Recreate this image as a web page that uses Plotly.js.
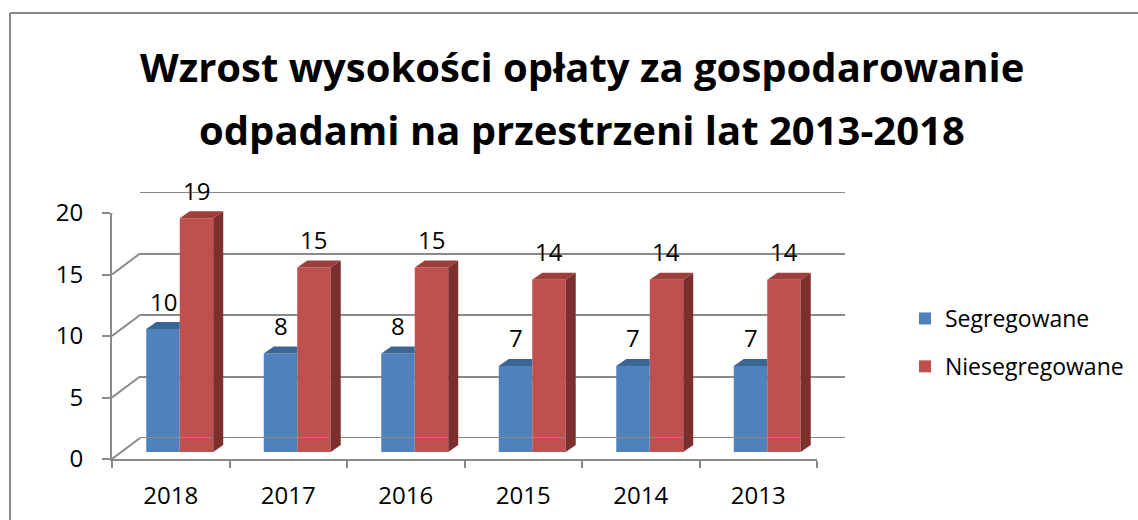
<!DOCTYPE html>
<html><head><meta charset="utf-8">
<script src="https://cdn.plot.ly/plotly-3.0.1.min.js"></script>
<style>html,body{margin:0;padding:0;background:#fff}</style>
</head><body><div id="chart" style="width:1138px;height:520px"></div>
<script>
const years = ['2018','2017','2016','2015','2014','2013'];
const segregowane = [10, 8, 8, 7, 7, 7];
const niesegregowane = [19, 15, 15, 14, 14, 14];
const seriesNames = ['Segregowane', 'Niesegregowane'];
const yTicks = [0, 5, 10, 15, 20];
const titleLines = ['Wzrost wysokości opłaty za gospodarowanie', 'odpadami na przestrzeni lat 2013-2018'];

const W = 1138, H = 520;
const FX0 = 112, FX1 = 817, FY0 = 459, FY1 = 213;   // front plane (px)
const BAR_OFF = [9, 7], BACK_OFF = [28, 21];       // depth offsets (px)
const FACE = [10, 7];                              // bar depth (px)
const YMAX = 20, BARGAP = 0.43;
const BLUE = '#4F81BD', RED = '#C0504D', BLUE_TOP = '#3B6593', RED_TOP = '#9E3F3C', RED_SIDE = '#7C302E';
const GRID = '#8A8A8A';
const FONT = 'Open Sans, Noto Sans, sans-serif';

const px = x => x / W, py = y => (H - y) / H;
const unitPx = (FY0 - FY1) / YMAX;
const catPx = (FX1 - FX0) / years.length;
const halfW = (1 - BARGAP) / 2;
const barPx = halfW * catPx;
const faceDy = FACE[1] / unitPx;
const backDy = BACK_OFF[1] / unitPx;

const traces = [
  {type: 'scatter', x: [], y: [], xaxis: 'x2', yaxis: 'y2', showlegend: false, hoverinfo: 'skip'},
  {type: 'bar', name: seriesNames[0], x: years, y: segregowane, xaxis: 'x3', yaxis: 'y3',
   marker: {color: BLUE}, legendgroup: 'a'},
  {type: 'bar', name: seriesNames[1], x: years, y: niesegregowane, xaxis: 'x3', yaxis: 'y3',
   marker: {color: RED}, legendgroup: 'b'}
];

const shapes = [];
const annotations = [];
// chart border (top and left edges)
shapes.push({type: 'line', xref: 'paper', yref: 'paper', x0: px(10), x1: px(1200), y0: py(13), y1: py(13), line: {color: GRID, width: 2}});
shapes.push({type: 'line', xref: 'paper', yref: 'paper', x0: px(10), x1: px(10), y0: py(13), y1: py(600), line: {color: GRID, width: 2}});
// back wall edge gridlines (floor back edge and top)
[0, YMAX].forEach(t => {
  shapes.push({type: 'line', xref: 'x2', yref: 'y2', x0: -0.5, x1: years.length - 0.5, y0: t, y1: t, line: {color: GRID, width: 2}});
});
// side wall diagonals
yTicks.forEach(t => {
  shapes.push({type: 'line', xref: 'x', yref: 'y', xsizemode: 'pixel', xanchor: -0.5, x0: 0, x1: BACK_OFF[0],
    y0: t, y1: t + backDy, line: {color: GRID, width: 2}});
});
shapes.push({type: 'line', xref: 'x', yref: 'y', xsizemode: 'pixel', xanchor: years.length - 0.5, x0: 0, x1: BACK_OFF[0],
  y0: 0, y1: backDy, line: {color: GRID, width: 2}});

years.forEach((yr, i) => {
  const b = segregowane[i], r = niesegregowane[i];
  const dx = FACE[0];
  shapes.push({type: 'path', xref: 'x3', yref: 'y3', xsizemode: 'pixel', xanchor: i - halfW, layer: 'above',
    path: `M0,${b} L${barPx},${b} L${barPx},${b + faceDy} L${dx},${b + faceDy} Z`,
    fillcolor: BLUE_TOP, line: {width: 0}});
  shapes.push({type: 'path', xref: 'x3', yref: 'y3', xsizemode: 'pixel', xanchor: i, layer: 'above',
    path: `M0,${r} L${barPx},${r} L${barPx + dx},${r + faceDy} L${dx},${r + faceDy} Z`,
    fillcolor: RED_TOP, line: {width: 0}});
  shapes.push({type: 'path', xref: 'x3', yref: 'y3', xsizemode: 'pixel', xanchor: i, layer: 'above',
    path: `M${barPx},0 L${barPx + dx},${faceDy} L${barPx + dx},${r + faceDy} L${barPx},${r} Z`,
    fillcolor: RED_SIDE, line: {width: 0}});
  annotations.push({xref: 'x3', yref: 'y3', x: i - halfW / 2, y: b, yshift: 28, text: String(b), showarrow: false,
    font: {family: FONT, size: 24, color: '#000'}});
  annotations.push({xref: 'x3', yref: 'y3', x: i + halfW / 2, y: r, yshift: 28, text: String(r), showarrow: false,
    font: {family: FONT, size: 24, color: '#000'}});
});

titleLines.forEach((t, k) => {
  annotations.push({xref: 'paper', yref: 'paper', x: px(582), y: py(k === 0 ? 66 : 129), xanchor: 'center', yanchor: 'middle',
    text: '<b>' + t + '</b>', showarrow: false, font: {family: FONT, size: 40, color: '#000'}});
});

const layout = {
  width: W, height: H,
  margin: {l: 0, r: 0, t: 0, b: 0},
  paper_bgcolor: '#fff', plot_bgcolor: 'rgba(0,0,0,0)',
  font: {family: FONT, size: 24, color: '#000'},
  showlegend: true,
  legend: {x: px(905), y: py(297), xanchor: 'left', yanchor: 'top', itemwidth: 30, tracegroupgap: 15,
    font: {family: FONT, size: 23, color: '#000'}, bgcolor: 'rgba(0,0,0,0)'},
  barmode: 'group', bargap: BARGAP, bargroupgap: 0,
  xaxis: {domain: [px(FX0), px(FX1)], anchor: 'y', type: 'category', categoryorder: 'array', categoryarray: years,
    range: [-0.5, years.length - 0.5], showline: true, linecolor: GRID, linewidth: 2, ticks: 'outside', tickson: 'boundaries',
    ticklen: 7, tickwidth: 2, tickcolor: GRID, showgrid: false, zeroline: false, ticklabelstandoff: 14,
    tickfont: {family: FONT, size: 24}, fixedrange: true},
  yaxis: {domain: [py(FY0), py(FY1)], anchor: 'x', range: [0, YMAX], tickvals: yTicks, showline: true, linecolor: GRID, linewidth: 2,
    ticks: 'outside', ticklen: 8, tickwidth: 2, tickcolor: GRID, showgrid: false, zeroline: false, ticklabelstandoff: 14,
    tickfont: {family: FONT, size: 24}, fixedrange: true},
  xaxis2: {domain: [px(FX0 + BACK_OFF[0]), px(FX1 + BACK_OFF[0])], anchor: 'y2', range: [-0.5, years.length - 0.5],
    showticklabels: false, showgrid: false, zeroline: false, showline: false, ticks: '', fixedrange: true},
  yaxis2: {domain: [py(FY0 - BACK_OFF[1]), py(FY1 - BACK_OFF[1])], anchor: 'x2', range: [0, YMAX], tickvals: yTicks,
    showticklabels: false, showgrid: true, gridcolor: GRID, gridwidth: 2, zeroline: false, showline: false, ticks: '', fixedrange: true},
  xaxis3: {domain: [px(FX0 + BAR_OFF[0]), px(FX1 + BAR_OFF[0])], anchor: 'y3', type: 'category', categoryorder: 'array',
    categoryarray: years, range: [-0.5, years.length - 0.5], visible: false, fixedrange: true},
  yaxis3: {domain: [py(FY0 - BAR_OFF[1]), py(FY1 - BAR_OFF[1])], anchor: 'x3', range: [0, YMAX], visible: false, fixedrange: true},
  shapes: shapes,
  annotations: annotations
};

Plotly.newPlot('chart', traces, layout, {displayModeBar: false, staticPlot: true});
</script></body></html>
